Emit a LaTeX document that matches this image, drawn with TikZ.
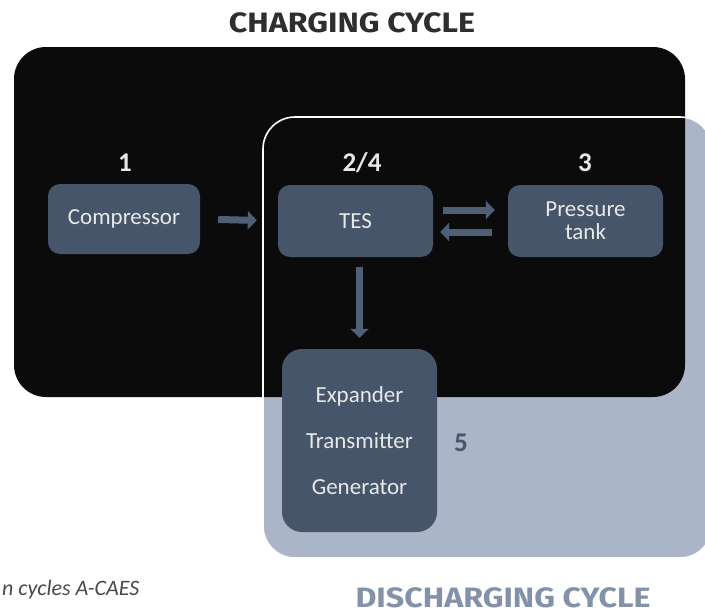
\documentclass[tikz,border=0pt]{standalone}
\usepackage{fontspec}
\usepackage{graphicx}
\setmainfont{Carlito}
\newfontfamily\titlefont{Fira Sans}
\usetikzlibrary{arrows.meta}
\definecolor{blackbox}{HTML}{0B0B0B}
\definecolor{dischfill}{HTML}{AAB5C7}
\definecolor{nodefill}{HTML}{465569}
\definecolor{arrowcol}{HTML}{4F5F75}
\definecolor{titledark}{HTML}{2E2E2E}
\definecolor{titlelight}{HTML}{8392A8}
\definecolor{numcol}{HTML}{E8E8E8}
\definecolor{capcol}{HTML}{4A4A4A}
\tikzset{
  x=1pt, y=-1pt,
  unit/.style={fill=nodefill, rounded corners=12pt, text=numcol, font=\fontsize{23}{26}\selectfont, align=center, inner sep=0pt},
  numlabel/.style={text=numcol, font=\bfseries\fontsize{27}{29}\selectfont},
  blockarrow/.style={draw=arrowcol, line width=7pt, -{Triangle[length=9pt, width=18pt]}},
  title/.style={font=\titlefont\bfseries\fontsize{28}{30}\selectfont, inner sep=0pt}
}
\begin{document}
\begin{tikzpicture}
\useasboundingbox (0,0) rectangle (705,613);
\fill[white] (0,0) rectangle (705,613);
% discharging region fill
\fill[dischfill, rounded corners=32pt] (263,117) rectangle (712,558);
% charging region
\fill[blackbox, rounded corners=32pt] (14,47) rectangle (685,397);
% discharging region outline
\draw[white, line width=1.6pt, rounded corners=32pt] (263,117) rectangle (712,558);
\fill[dischfill] (705.2,100) rectangle (712,600);
\fill[white] (705,0) rectangle (712,613);

% nodes
\node[unit, minimum width=152pt, minimum height=70pt] (comp) at (124,219) {Compressor};
\node[unit, minimum width=155pt, minimum height=72pt] (tes) at (355.5,221) {TES};
\node[unit, minimum width=155pt, minimum height=72pt] (pt) at (585.5,221) {Pressure\\[-3pt]tank};
\node[unit, rounded corners=20pt, minimum width=155pt, minimum height=183pt] (exp) at (359.5,440.5) {Expander\\[20pt]Transmitter\\[20pt]Generator};

% number labels
\node[numlabel] (n1) at (125,163) {1};
\node[numlabel] (n24) at (362,163) {2/4};
\node[numlabel] (n3) at (585,163) {3};
\node[numlabel, text=nodefill] (n5) at (461,443) {5};

% arrows
\draw[blockarrow, shorten <=18pt, shorten >=21pt] (comp.east) -- (tes.west);
\draw[blockarrow, shorten <=10pt, shorten >=13pt] ([yshift=11pt]tes.east) -- ([yshift=11pt]pt.west);
\draw[blockarrow, shorten <=16pt, shorten >=7pt] ([yshift=-11pt]pt.west) -- ([yshift=-11pt]tes.east);
\draw[blockarrow, shorten <=10pt, shorten >=11pt] ([xshift=4pt]tes.south) -- ([xshift=4pt]tes.south |- exp.north);

% titles
\node[title, text=titledark, anchor=base] (ttop) at (352,32) {\scalebox{1.15}[1]{CHARGING CYCLE}};
\node[title, text=titlelight, anchor=base] (tbot) at (503,607) {\scalebox{1.15}[1]{DISCHARGING CYCLE}};
\node[anchor=west, text=capcol, font=\itshape\fontsize{22}{24}\selectfont, inner sep=0pt] (cap) at (2,590) {n cycles A-CAES};
\end{tikzpicture}
\end{document}
